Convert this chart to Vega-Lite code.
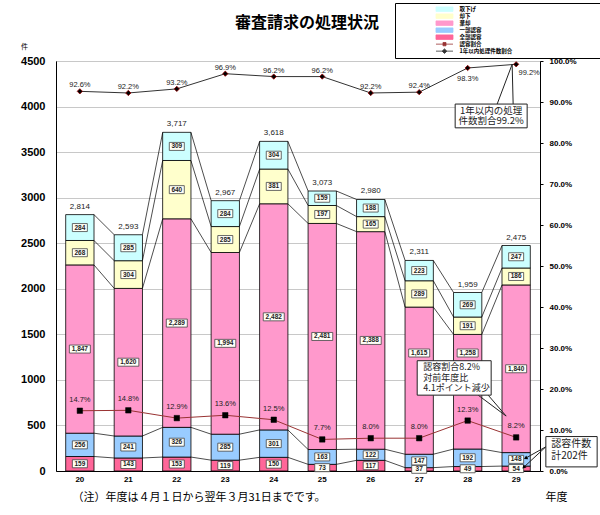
{
  "$schema": "https://vega.github.io/schema/vega-lite/v6.json",
  "width": 484,
  "height": 410,
  "autosize": {"type": "none"},
  "padding": {"left": 56, "top": 61, "right": 60, "bottom": 44},
  "background": "#ffffff",
  "title": {
    "text": "審査請求の処理状況",
    "font": "Noto Sans CJK JP",
    "fontSize": 16,
    "fontWeight": "bold",
    "color": "#000000",
    "anchor": "middle",
    "frame": "group",
    "dx": 9,
    "offset": -28
  },
  "datasets": {
    "d": [
      {"year": "20", "全部認容": 159, "一部認容": 256, "棄却": 1847, "却下": 268, "取下げ": 284, "認容割合": 14.7, "処理割合": 92.6},
      {"year": "21", "全部認容": 143, "一部認容": 241, "棄却": 1620, "却下": 304, "取下げ": 285, "認容割合": 14.8, "処理割合": 92.2},
      {"year": "22", "全部認容": 153, "一部認容": 326, "棄却": 2289, "却下": 640, "取下げ": 309, "認容割合": 12.9, "処理割合": 93.2},
      {"year": "23", "全部認容": 119, "一部認容": 285, "棄却": 1994, "却下": 285, "取下げ": 284, "認容割合": 13.6, "処理割合": 96.9},
      {"year": "24", "全部認容": 150, "一部認容": 301, "棄却": 2482, "却下": 381, "取下げ": 304, "認容割合": 12.5, "処理割合": 96.2},
      {"year": "25", "全部認容": 73, "一部認容": 163, "棄却": 2481, "却下": 197, "取下げ": 159, "認容割合": 7.7, "処理割合": 96.2},
      {"year": "26", "全部認容": 117, "一部認容": 122, "棄却": 2388, "却下": 165, "取下げ": 188, "認容割合": 8.0, "処理割合": 92.2},
      {"year": "27", "全部認容": 37, "一部認容": 147, "棄却": 1615, "却下": 289, "取下げ": 223, "認容割合": 8.0, "処理割合": 92.4},
      {"year": "28", "全部認容": 49, "一部認容": 192, "棄却": 1258, "却下": 191, "取下げ": 269, "認容割合": 12.3, "処理割合": 98.3},
      {"year": "29", "全部認容": 54, "一部認容": 148, "棄却": 1840, "却下": 186, "取下げ": 247, "認容割合": 8.2, "処理割合": 99.2}
    ]
  },
  "layer": [
    {
      "data": {"name": "d"},
      "transform": [
        {"fold": ["全部認容", "一部認容", "棄却", "却下", "取下げ"], "as": ["k", "v"]},
        {"calculate": "indexof(['全部認容','一部認容','棄却','却下','取下げ'], datum.k)", "as": "ord"},
        {"stack": "v", "groupby": ["year"], "sort": [{"field": "ord", "order": "ascending"}], "as": ["y0", "y1"]},
        {"calculate": "(datum.y0 + datum.y1) / 2", "as": "mid"},
        {"calculate": "datum.k === '棄却' && (datum.year === '27' || datum.year === '28')", "as": "raised"}
      ],
      "layer": [
        {
          "mark": {"type": "bar", "stroke": "#000000", "strokeWidth": 0.8},
          "encoding": {
            "x": {
              "field": "year",
              "type": "ordinal",
              "scale": {"paddingInner": 0.416, "paddingOuter": 0.2},
              "axis": {
                "title": "（注）年度は４月１日から翌年３月31日までです。",
                "titleAnchor": "start",
                "titleAlign": "left",
                "titleX": 16,
                "titleY": 26,
                "titleBaseline": "middle",
                "titleFont": "Noto Sans CJK JP",
                "titleFontSize": 11,
                "titleFontWeight": "normal",
                "titleColor": "#000000",
                "labelAngle": 0,
                "labelFont": "Liberation Sans",
                "labelFontSize": 8,
                "labelFontWeight": "bold",
                "labelColor": "#000000",
                "labelPadding": 4,
                "ticks": false,
                "domainColor": "#000000"
              }
            },
            "y": {
              "field": "y1",
              "type": "quantitative",
              "scale": {"domain": [0, 4500], "nice": false},
              "axis": {
                "title": "件",
                "titleAngle": 0,
                "titleX": -32,
                "titleY": -15,
                "titleAlign": "center",
                "titleBaseline": "middle",
                "titleFont": "Noto Sans CJK JP",
                "titleFontSize": 7,
                "titleFontWeight": "normal",
                "titleColor": "#000000",
                "values": [0, 500, 1000, 1500, 2000, 2500, 3000, 3500, 4000, 4500],
                "format": "d",
                "labelFont": "Liberation Sans",
                "labelFontSize": 11,
                "labelFontWeight": "bold",
                "labelColor": "#000000",
                "labelPadding": 11,
                "ticks": false,
                "domainColor": "#000000",
                "gridColor": "#c8c8c8"
              }
            },
            "y2": {"field": "y0"},
            "color": {
              "field": "k",
              "type": "nominal",
              "scale": {
                "domain": ["取下げ", "却下", "棄却", "一部認容", "全部認容", "認容割合", "1年以内処理件数割合"],
                "range": ["#ccffff", "#ffffcc", "#ff99cc", "#99ccff", "#ff6699", "#993333", "#333333"]
              },
              "legend": {
                "orient": "none",
                "legendX": 339,
                "legendY": -58,
                "title": " ",
                "titleOrient": "right",
                "titlePadding": 102,
                "titleFontSize": 5.5,
                "padding": 3,
                "strokeColor": "#000000",
                "fillColor": "#ffffff",
                "labelFont": "Noto Sans CJK JP",
                "labelFontSize": 5.5,
                "labelFontWeight": "bold",
                "labelColor": "#000000",
                "symbolOffset": 38,
                "labelOffset": 17.6,
                "rowPadding": 0,
                "clipHeight": 6.3,
                "symbolSize": 19,
                "encoding": {
                  "symbols": {
                    "shape": {"value": {"expr": "datum.value === '認容割合' ? 'M-1.38,0H6.42M1.83,-0.76H3.21V0.76H1.83Z' : datum.value === '1年以内処理件数割合' ? 'M-1.38,0H6.42M2.52,-1.03L3.58,0L2.52,1.03L1.46,0Z' : 'M-1.38,-1.03H6.42V1.03H-1.38Z'"}},
                    "fill": {"value": {"expr": "datum.value === '認容割合' || datum.value === '1年以内処理件数割合' ? '#000000' : scale('color', datum.value)"}},
                    "stroke": {"value": {"expr": "datum.value === '認容割合' ? '#993333' : datum.value === '1年以内処理件数割合' ? '#333333' : '#555555'"}},
                    "strokeWidth": {"value": 0.8},
                    "opacity": {"value": 1}
                  }
                }
              }
            }
          }
        },
        {
          "transform": [
            {"window": [{"op": "lead", "field": "y1", "as": "ny"}, {"op": "lead", "field": "year", "as": "nyear"}], "groupby": ["k"], "sort": [{"field": "year", "order": "ascending"}], "frame": [null, null]},
            {"filter": "datum.nyear != null"}
          ],
          "mark": {"type": "rule", "color": "#000000", "strokeWidth": 0.7, "xOffset": 14.1, "x2Offset": -14.1},
          "encoding": {
            "x": {"field": "year", "type": "ordinal", "bandPosition": 0.5},
            "x2": {"field": "nyear", "bandPosition": 0.5},
            "y": {"field": "y1", "type": "quantitative"},
            "y2": {"field": "ny"}
          }
        },
        {
          "transform": [{"filter": "datum.v < 1000"}],
          "mark": {"type": "bar", "width": 15, "fill": "#fffff7", "stroke": "#444444", "strokeWidth": 0.8, "yOffset": 4, "y2Offset": -4},
          "encoding": {
            "x": {"field": "year", "type": "ordinal"},
            "y": {"field": "mid", "type": "quantitative"},
            "y2": {"field": "mid"}
          }
        },
        {
          "transform": [{"filter": "datum.v >= 1000 && !datum.raised"}],
          "mark": {"type": "bar", "width": 21, "fill": "#fffff7", "stroke": "#444444", "strokeWidth": 0.8, "yOffset": 4, "y2Offset": -4},
          "encoding": {
            "x": {"field": "year", "type": "ordinal"},
            "y": {"field": "mid", "type": "quantitative"},
            "y2": {"field": "mid"}
          }
        },
        {
          "transform": [{"filter": "datum.raised"}],
          "mark": {"type": "bar", "width": 21, "fill": "#fffff7", "stroke": "#444444", "strokeWidth": 0.8, "yOffset": 4, "y2Offset": -4},
          "encoding": {
            "x": {"field": "year", "type": "ordinal"},
            "y": {"datum": 1295, "type": "quantitative"},
            "y2": {"datum": 1295}
          }
        },
        {
          "transform": [{"filter": "!datum.raised"}],
          "mark": {"type": "text", "font": "Liberation Sans", "fontSize": 6.5, "fontWeight": "bold", "color": "#222222", "baseline": "middle"},
          "encoding": {
            "x": {"field": "year", "type": "ordinal"},
            "y": {"field": "mid", "type": "quantitative"},
            "text": {"field": "v", "type": "quantitative", "format": ","}
          }
        },
        {
          "transform": [{"filter": "datum.raised"}],
          "mark": {"type": "text", "font": "Liberation Sans", "fontSize": 6.5, "fontWeight": "bold", "color": "#222222", "baseline": "middle"},
          "encoding": {
            "x": {"field": "year", "type": "ordinal"},
            "y": {"datum": 1295, "type": "quantitative"},
            "text": {"field": "v", "type": "quantitative", "format": ","}
          }
        },
        {
          "transform": [{"filter": "datum.k === '取下げ'"}],
          "mark": {"type": "text", "font": "Liberation Sans", "fontSize": 8, "color": "#222222", "baseline": "middle", "dy": -8},
          "encoding": {
            "x": {"field": "year", "type": "ordinal"},
            "y": {"field": "y1", "type": "quantitative"},
            "text": {"field": "y1", "type": "quantitative", "format": ","}
          }
        }
      ]
    },
    {
      "data": {"name": "d"},
      "transform": [
        {"calculate": "format(datum['認容割合'], '.1f') + '%'", "as": "l1"},
        {"calculate": "format(datum['処理割合'], '.1f') + '%'", "as": "l2"}
      ],
      "layer": [
        {
          "mark": {"type": "line", "strokeWidth": 1},
          "encoding": {
            "x": {"field": "year", "type": "ordinal"},
            "y": {
              "field": "認容割合",
              "type": "quantitative",
              "scale": {"domain": [0, 100], "nice": false},
              "axis": {
                "orient": "right",
                "title": "年度",
                "titleAngle": 0,
                "titleX": 5,
                "titleY": 436,
                "titleAlign": "left",
                "titleBaseline": "middle",
                "titleFont": "Noto Sans CJK JP",
                "titleFontSize": 11,
                "titleFontWeight": "normal",
                "titleColor": "#000000",
                "values": [0, 10, 20, 30, 40, 50, 60, 70, 80, 90, 100],
                "labelExpr": "format(datum.value, '.1f') + '%'",
                "labelFont": "Liberation Sans",
                "labelFontSize": 8,
                "labelFontWeight": "bold",
                "labelColor": "#000000",
                "labelPadding": 6,
                "tickSize": 3,
                "tickColor": "#000000",
                "domainColor": "#000000",
                "grid": false
              }
            },
            "color": {"datum": "認容割合", "type": "nominal"}
          }
        },
        {
          "mark": {"type": "line", "strokeWidth": 1},
          "encoding": {
            "x": {"field": "year", "type": "ordinal"},
            "y": {"field": "処理割合", "type": "quantitative"},
            "color": {"datum": "1年以内処理件数割合", "type": "nominal"}
          }
        },
        {
          "mark": {"type": "point", "shape": "square", "filled": true, "size": 30, "fill": "#000000", "stroke": "#000000", "strokeWidth": 0.5, "opacity": 1},
          "encoding": {
            "x": {"field": "year", "type": "ordinal"},
            "y": {"field": "認容割合", "type": "quantitative"}
          }
        },
        {
          "mark": {"type": "point", "shape": "diamond", "filled": true, "size": 28, "fill": "#000000", "stroke": "#990000", "strokeWidth": 0.8, "opacity": 1},
          "encoding": {
            "x": {"field": "year", "type": "ordinal"},
            "y": {"field": "処理割合", "type": "quantitative"}
          }
        },
        {
          "mark": {"type": "text", "font": "Liberation Sans", "fontSize": 7.5, "color": "#222222", "baseline": "middle", "dy": -11},
          "encoding": {
            "x": {"field": "year", "type": "ordinal"},
            "y": {"field": "認容割合", "type": "quantitative"},
            "text": {"field": "l1"}
          }
        },
        {
          "transform": [{"filter": "datum.year < '28'"}],
          "mark": {"type": "text", "font": "Liberation Sans", "fontSize": 7.5, "color": "#222222", "baseline": "middle", "dy": -6},
          "encoding": {
            "x": {"field": "year", "type": "ordinal"},
            "y": {"field": "処理割合", "type": "quantitative"},
            "text": {"field": "l2"}
          }
        },
        {
          "transform": [{"filter": "datum.year === '28'"}],
          "mark": {"type": "text", "font": "Liberation Sans", "fontSize": 7.5, "color": "#222222", "baseline": "middle", "dy": 11},
          "encoding": {
            "x": {"field": "year", "type": "ordinal"},
            "y": {"field": "処理割合", "type": "quantitative"},
            "text": {"field": "l2"}
          }
        },
        {
          "transform": [{"filter": "datum.year === '29'"}],
          "mark": {"type": "text", "font": "Liberation Sans", "fontSize": 7.5, "color": "#222222", "baseline": "middle", "dx": 13, "dy": 9},
          "encoding": {
            "x": {"field": "year", "type": "ordinal"},
            "y": {"field": "処理割合", "type": "quantitative"},
            "text": {"field": "l2"}
          }
        },
        {
          "data": {"values": [{}]},
          "mark": {"type": "rule", "color": "#222222", "strokeWidth": 1, "xOffset": 29.5, "x2Offset": -4},
          "encoding": {
            "x": {"datum": "28", "type": "ordinal", "bandPosition": 0.5},
            "x2": {"datum": "29", "bandPosition": 0.5},
            "y": {"datum": 89.5, "type": "quantitative"},
            "y2": {"datum": 99.2}
          }
        },
        {
          "data": {"values": [{}]},
          "mark": {"type": "rule", "color": "#222222", "strokeWidth": 1, "xOffset": -3, "x2Offset": -4},
          "encoding": {
            "x": {"datum": "29", "type": "ordinal", "bandPosition": 0.5},
            "x2": {"datum": "29", "bandPosition": 0.5},
            "y": {"datum": 89.5, "type": "quantitative"},
            "y2": {"datum": 99.2}
          }
        },
        {
          "data": {"values": [{}]},
          "mark": {"type": "rect", "fill": "#ffffff", "stroke": "#222222", "strokeWidth": 1, "xOffset": -12.5, "x2Offset": 11},
          "encoding": {
            "x": {"datum": "28", "type": "ordinal", "bandPosition": 0.5},
            "x2": {"datum": "29", "bandPosition": 0.5},
            "y": {"datum": 89.5, "type": "quantitative"},
            "y2": {"datum": 83.7}
          }
        },
        {
          "data": {"values": [{}]},
          "mark": {"type": "text", "font": "Noto Sans CJK JP", "fontSize": 9.5, "lineHeight": 10.5, "color": "#222222", "align": "center", "baseline": "middle", "xOffset": 23.5},
          "encoding": {
            "x": {"datum": "28", "type": "ordinal"},
            "y": {"datum": 87.9, "type": "quantitative"},
            "text": {"value": ["1年以内の処理", "件数割合99.2%"]}
          }
        },
        {
          "data": {"values": [{}]},
          "mark": {"type": "rule", "color": "#222222", "strokeWidth": 1, "xOffset": 10.5, "x2Offset": -10},
          "encoding": {
            "x": {"datum": "28", "type": "ordinal", "bandPosition": 0.5},
            "x2": {"datum": "29", "bandPosition": 0.5},
            "y": {"datum": 18.5, "type": "quantitative"},
            "y2": {"datum": 13.4}
          }
        },
        {
          "data": {"values": [{}]},
          "mark": {"type": "rule", "color": "#222222", "strokeWidth": 1, "xOffset": 20.5, "x2Offset": -10},
          "encoding": {
            "x": {"datum": "28", "type": "ordinal", "bandPosition": 0.5},
            "x2": {"datum": "29", "bandPosition": 0.5},
            "y": {"datum": 18.5, "type": "quantitative"},
            "y2": {"datum": 13.4}
          }
        },
        {
          "data": {"values": [{}]},
          "mark": {"type": "rect", "fill": "#ffffff", "stroke": "#222222", "strokeWidth": 1, "xOffset": -2, "x2Offset": 23.5},
          "encoding": {
            "x": {"datum": "27", "type": "ordinal", "bandPosition": 0.5},
            "x2": {"datum": "28", "bandPosition": 0.5},
            "y": {"datum": 26.9, "type": "quantitative"},
            "y2": {"datum": 18.5}
          }
        },
        {
          "data": {"values": [{}]},
          "mark": {"type": "text", "font": "Noto Sans CJK JP", "fontSize": 9, "lineHeight": 10.7, "color": "#222222", "align": "left", "baseline": "middle", "xOffset": 4},
          "encoding": {
            "x": {"datum": "27", "type": "ordinal"},
            "y": {"datum": 25.4, "type": "quantitative"},
            "text": {"value": ["認容割合8.2%", "対前年度比", "4.1ポイント減少"]}
          }
        },
        {
          "data": {"values": [{}]},
          "mark": {"type": "rule", "color": "#222222", "strokeWidth": 1, "xOffset": 29.7, "x2Offset": 10},
          "encoding": {
            "x": {"datum": "29", "type": "ordinal", "bandPosition": 0.5},
            "x2": {"datum": "29", "bandPosition": 0.5},
            "y": {"datum": 5.9, "type": "quantitative"},
            "y2": {"datum": 3.2}
          }
        },
        {
          "data": {"values": [{}]},
          "mark": {"type": "rule", "color": "#222222", "strokeWidth": 1, "xOffset": 29.7, "x2Offset": 8},
          "encoding": {
            "x": {"datum": "29", "type": "ordinal", "bandPosition": 0.5},
            "x2": {"datum": "29", "bandPosition": 0.5},
            "y": {"datum": 5.9, "type": "quantitative"},
            "y2": {"datum": 1.0}
          }
        },
        {
          "data": {"values": [{}]},
          "mark": {"type": "point", "shape": "triangle", "filled": true, "size": 18, "color": "#000000", "opacity": 1, "angle": 241, "xOffset": 10},
          "encoding": {
            "x": {"datum": "29", "type": "ordinal"},
            "y": {"datum": 3.2, "type": "quantitative"}
          }
        },
        {
          "data": {"values": [{}]},
          "mark": {"type": "point", "shape": "triangle", "filled": true, "size": 18, "color": "#000000", "opacity": 1, "angle": 227, "xOffset": 8},
          "encoding": {
            "x": {"datum": "29", "type": "ordinal"},
            "y": {"datum": 1.0, "type": "quantitative"}
          }
        },
        {
          "data": {"values": [{}]},
          "mark": {"type": "rect", "fill": "#ffffff", "stroke": "#222222", "strokeWidth": 1, "xOffset": 29.7, "x2Offset": 81, "clip": false},
          "encoding": {
            "x": {"datum": "29", "type": "ordinal", "bandPosition": 0.5},
            "x2": {"datum": "29", "bandPosition": 0.5},
            "y": {"datum": 8.4, "type": "quantitative"},
            "y2": {"datum": 1.0}
          }
        },
        {
          "data": {"values": [{}]},
          "mark": {"type": "text", "font": "Noto Sans CJK JP", "fontSize": 10, "lineHeight": 12, "color": "#222222", "align": "left", "baseline": "middle", "xOffset": 35},
          "encoding": {
            "x": {"datum": "29", "type": "ordinal"},
            "y": {"datum": 6.6, "type": "quantitative"},
            "text": {"value": ["認容件数", "計202件"]}
          }
        }
      ]
    }
  ],
  "resolve": {"scale": {"y": "independent"}},
  "config": {
    "font": "Liberation Sans",
    "view": {"stroke": "#555555", "strokeWidth": 1}
  }
}
